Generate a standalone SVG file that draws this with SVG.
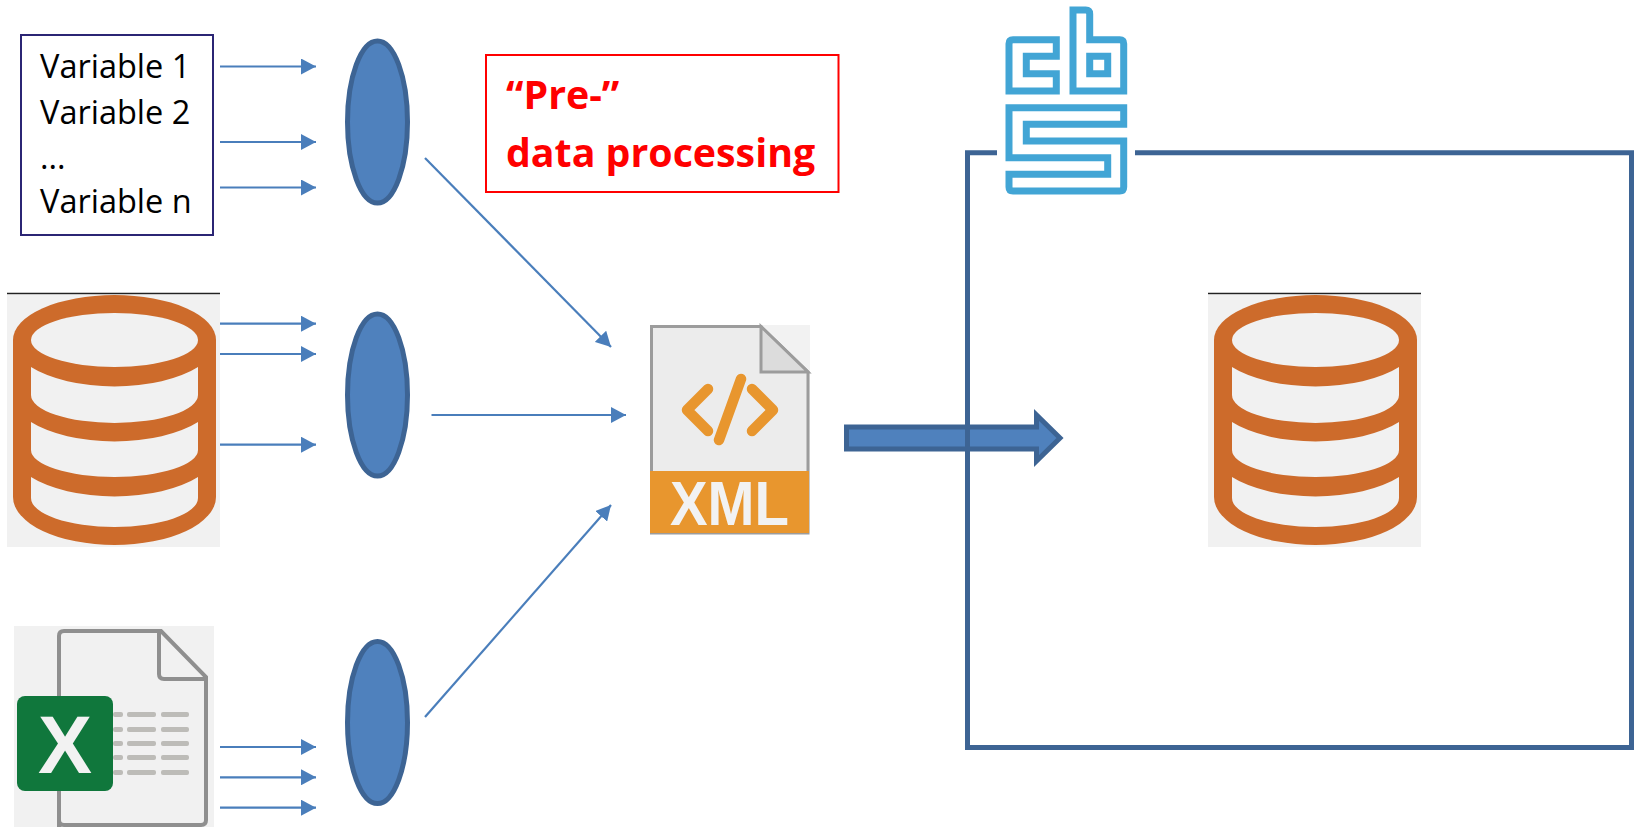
<svg xmlns="http://www.w3.org/2000/svg" width="1634" height="827" viewBox="0 0 1634 827">
<style>
.sans{font-family:"Open Sans","Liberation Sans",sans-serif}
.var{font-size:32.500px;fill:#000}
.red{font-size:39.300px;font-weight:700;fill:#f00}
.oval{fill:#4f81bd;stroke:#3d6494;stroke-width:5}
.thin{stroke:#4a7ebb;stroke-width:2.200;fill:none;marker-end:url(#tip)}
.cbs{fill:none;stroke:#42a5d5;stroke-width:7}
.cell{fill:#bdbcb8}
.icon{font-family:"Liberation Sans",sans-serif;font-weight:700;fill:#f2f2f2}
</style>
<defs>
<marker id="tip" markerUnits="userSpaceOnUse" markerWidth="16" markerHeight="16" refX="15" refY="8" orient="auto"><path d="M0 0L15 8L0 16Z" fill="#4a7ebb"/></marker>
<g id="cyl">
<rect x="7" y="295" width="213" height="252" fill="#f1f1f1"/>
<path d="M7 293.500H220" stroke="#222" stroke-width="1.500" fill="none"/>
<path d="M13 340A101.500 45 0 0 1 216 340V497A101.500 48 0 0 1 13 497Z" fill="#cd6b2b"/>
<ellipse cx="114.500" cy="340" rx="83.500" ry="27" fill="#f1f1f1"/>
<path fill="#f1f1f1" d="M31 367A101.500 45 0 0 0 198 367V395A83.500 28 0 0 1 31 395Z"/>
<path fill="#f1f1f1" d="M31 422A101.500 45 0 0 0 198 422V450A83.500 27 0 0 1 31 450Z"/>
<path fill="#f1f1f1" d="M31 477A101.500 45 0 0 0 198 477V498A83.500 29 0 0 1 31 498Z"/>
</g>
</defs>
<g id="variables"><rect x="21" y="35" width="192" height="200" fill="#fff" stroke="#2b2574" stroke-width="2"/>
<text class="sans var" x="40" y="78">Variable 1</text><text class="sans var" x="40" y="124">Variable 2</text><text class="sans var" x="40" y="169">...</text><text class="sans var" x="40" y="213">Variable n</text></g>
<g id="database-source"><use href="#cyl"/></g>
<g id="excel-source">
<rect x="14" y="626" width="200" height="201" fill="#f1f1f1"/>
<path d="M59 827V636Q59 631 64 631H161L206 677V820Q206 825 201 825H64Q59 825 59 820" fill="none" stroke="#8f8f8f" stroke-width="4"/>
<path d="M159 632V674Q159 679 164 679H206" fill="none" stroke="#8f8f8f" stroke-width="4"/>
<g class="cell"><rect x="113" y="712" width="10" height="5" rx="2"/><rect x="127" y="712" width="29" height="5" rx="2"/><rect x="161" y="712" width="28" height="5" rx="2"/><rect x="113" y="727" width="10" height="5" rx="2"/><rect x="127" y="727" width="29" height="5" rx="2"/><rect x="161" y="727" width="28" height="5" rx="2"/><rect x="113" y="741" width="10" height="5" rx="2"/><rect x="127" y="741" width="29" height="5" rx="2"/><rect x="161" y="741" width="28" height="5" rx="2"/><rect x="113" y="755" width="10" height="5" rx="2"/><rect x="127" y="755" width="29" height="5" rx="2"/><rect x="161" y="755" width="28" height="5" rx="2"/><rect x="113" y="770" width="10" height="5" rx="2"/><rect x="127" y="770" width="29" height="5" rx="2"/><rect x="161" y="770" width="28" height="5" rx="2"/></g>
<rect x="17" y="696" width="96" height="95" rx="8" fill="#10773c"/>
<text class="icon" x="65" y="773" font-size="81" text-anchor="middle">X</text>
</g>
<g id="oval-1"><ellipse class="oval" cx="377.500" cy="122" rx="30" ry="81"/></g>
<g id="oval-2"><ellipse class="oval" cx="377.500" cy="395" rx="30" ry="81"/></g>
<g id="oval-3"><ellipse class="oval" cx="377.500" cy="722.500" rx="30" ry="81"/></g>
<g id="pre-processing"><rect x="486" y="55" width="352.500" height="137" fill="#fff" stroke="#f00" stroke-width="2"/>
<text class="sans red" x="506" y="108.500">“Pre-”</text><text class="sans red" x="506" y="167">data processing</text></g>
<g id="xml-file">
<rect x="650" y="325" width="160" height="208" fill="#f2f2f2"/>
<path d="M651.500 533V326.500H761L808 372V533Z" fill="#ececec" stroke="#9c9c9c" stroke-width="3"/>
<path d="M761 326.500V372H808Z" fill="#dcdcdc" stroke="#9c9c9c" stroke-width="3"/>
<rect x="650" y="471" width="159" height="62" fill="#e8962e"/>
<path d="M708 389L687 410L708 431M752 389L773 410L752 431M741 379L719 440" fill="none" stroke="#e8962e" stroke-width="10.500" stroke-linecap="round" stroke-linejoin="round"/>
<text class="icon" x="670" y="525" font-size="63" textLength="119" lengthAdjust="spacingAndGlyphs">XML</text>
</g>
<g id="connectors">
<path class="thin" d="M220 66.500H316"/><path class="thin" d="M220 142H316"/><path class="thin" d="M220 187.500H316"/>
<path class="thin" d="M220 323.700H316"/><path class="thin" d="M220 354H316"/><path class="thin" d="M220 444.700H316"/>
<path class="thin" d="M220 747H316"/><path class="thin" d="M220 777.300H316"/><path class="thin" d="M220 807.700H316"/>
<path class="thin" d="M425 158L611 347"/><path class="thin" d="M431.500 415H626"/><path class="thin" d="M425 717L611 505"/>
<path d="M846.500 427H1036.500V415L1060 438L1036.500 461V449H846.500Z" fill="#4f81bd" stroke="#3d6494" stroke-width="5"/>
</g>
<g id="cbs-frame">
<path d="M997 152.700H967.500V747.500H1631.500V152.700H1135" fill="none" stroke="#3d6494" stroke-width="5"/>
</g>
<g id="cbs-logo">
<path class="cbs" d="M1009 43.700Q1009 39.700 1013 39.700H1056.300V56.300H1026.300V73.700H1056.300V91H1009Z"/>
<path class="cbs" d="M1073 10H1085.700Q1089.700 10 1089.700 14V39.700H1119.700Q1123.700 39.700 1123.700 43.700V91H1073Z"/>
<path class="cbs" d="M1089.700 56.300H1107.700V73.700H1089.700Z"/>
<path class="cbs" d="M1009 107.700H1123.700V124.300H1026.300V141H1123.700V187Q1123.700 191 1119.700 191H1013Q1009 191 1009 187V174.300H1107.700V157.700H1009Z"/>
</g>
<g id="database-target"><use href="#cyl" x="1201"/></g>
</svg>
